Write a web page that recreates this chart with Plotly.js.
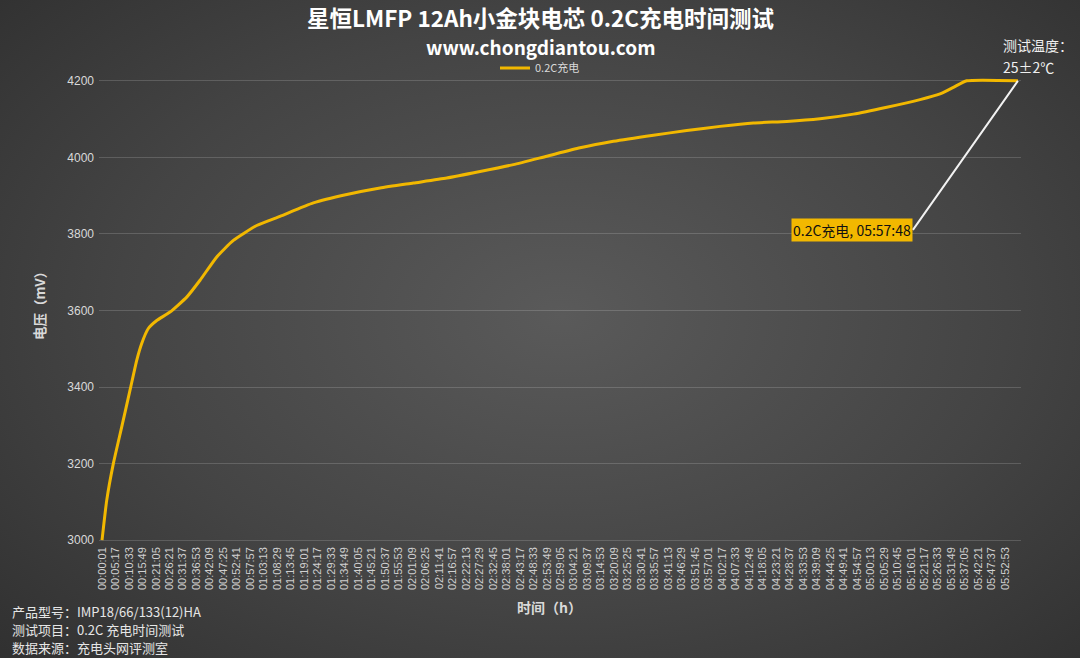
<!DOCTYPE html>
<html>
<head>
<meta charset="utf-8">
<script src="https://cdn.plot.ly/plotly-3.0.1.min.js"></script>
<style>
  html, body {
    margin: 0;
    padding: 0;
    width: 1080px;
    height: 658px;
    overflow: hidden;
    background: radial-gradient(ellipse 75% 80% at 52% 48%, #5a5a5a 0%, #444444 55%, #2e2e2e 100%);
  }
  #chart {
    width: 1080px;
    height: 658px;
  }
</style>
</head>
<body>
<div id="chart"></div>
<script>
// charge time (s) vs cell voltage (mV)
const chargeTimeSec = [1, 111, 266, 463, 657, 814, 931, 1086, 1283, 1595, 1986, 2298, 2690, 3079,
  3627, 4173, 4954, 5737, 6517, 7298, 8081, 8861, 9642, 10425, 11205, 11986, 12924, 13706,
  14487, 15268, 16050, 16831, 17612, 18394, 19174, 19643, 19955, 20269, 21468];
const voltageMV = [3000, 3104, 3200, 3296, 3392, 3470, 3514, 3553, 3574, 3596, 3635, 3679, 3740, 3783,
  3822, 3846, 3881, 3903, 3920, 3933, 3946, 3963, 3981, 4003, 4025, 4042, 4058, 4070,
  4081, 4090, 4094, 4101, 4113, 4131, 4151, 4166, 4183, 4200, 4200];

const xTickLabels = ['00:00:01', '00:05:17', '00:10:33', '00:15:49', '00:21:05', '00:26:21', '00:31:37',
  '00:36:53', '00:42:09', '00:47:25', '00:52:41', '00:57:57', '01:03:13', '01:08:29', '01:13:45',
  '01:19:01', '01:24:17', '01:29:33', '01:34:49', '01:40:05', '01:45:21', '01:50:37', '01:55:53',
  '02:01:09', '02:06:25', '02:11:41', '02:16:57', '02:22:13', '02:27:29', '02:32:45', '02:38:01',
  '02:43:17', '02:48:33', '02:53:49', '02:59:05', '03:04:21', '03:09:37', '03:14:53', '03:20:09',
  '03:25:25', '03:30:41', '03:35:57', '03:41:13', '03:46:29', '03:51:45', '03:57:01', '04:02:17',
  '04:07:33', '04:12:49', '04:18:05', '04:23:21', '04:28:37', '04:33:53', '04:39:09', '04:44:25',
  '04:49:41', '04:54:57', '05:00:13', '05:05:29', '05:10:45', '05:16:01', '05:21:17', '05:26:33',
  '05:31:49', '05:37:05', '05:42:21', '05:47:37', '05:52:53'];
const yTickVals = [3000, 3200, 3400, 3600, 3800, 4000, 4200];

const seriesName = '0.2C充电';
const endLabel = '05:57:48';
const infoLines = ['产品型号：IMP18/66/133(12)HA', '测试项目：0.2C 充电时间测试', '数据来源：充电头网评测室'];

function toSec(s) {
  const p = s.split(':').map(Number);
  return p[0] * 3600 + p[1] * 60 + p[2];
}

const CJK = '"Noto Sans CJK SC", "Microsoft YaHei", sans-serif';
const lineColor = '#f2b800';
const lastIdx = chargeTimeSec.length - 1;

// plot area: left 99, right 1021, top 77, bottom 544 (px)
const PL = 99, PW = 922, PB = 544, PH = 467;
const px = v => (v - PL) / PW;
const py = v => (PB - v) / PH;

const trace = {
  x: chargeTimeSec,
  y: voltageMV,
  type: 'scatter',
  mode: 'lines',
  name: seriesName,
  line: { color: lineColor, width: 3, shape: 'spline', smoothing: 0.5 },
  hoverinfo: 'skip'
};

function note(text, x, y, size, color, extra) {
  return Object.assign({
    text: text, xref: 'paper', yref: 'paper', x: x, y: y,
    xanchor: 'center', yanchor: 'middle', showarrow: false,
    font: { size: size, color: color, family: CJK }
  }, extra || {});
}

const layout = {
  width: 1080,
  height: 658,
  paper_bgcolor: 'rgba(0,0,0,0)',
  plot_bgcolor: 'rgba(0,0,0,0)',
  margin: { l: PL, r: 1080 - PL - PW, t: PB - PH, b: 658 - PB, pad: 0, autoexpand: false },
  font: { family: CJK, color: '#d9d9d9', size: 12 },
  showlegend: true,
  legend: {
    orientation: 'h',
    x: 0.5, xref: 'container', xanchor: 'center',
    y: 1 - 68 / 658, yref: 'container', yanchor: 'middle',
    font: { size: 11, color: '#d9d9d9', family: CJK },
    bgcolor: 'rgba(0,0,0,0)'
  },
  xaxis: {
    range: [-70, 21540],
    tickmode: 'array',
    tickvals: xTickLabels.map(toSec),
    ticktext: xTickLabels,
    tickangle: -90,
    tickfont: { size: 11, color: '#d0d0d0', family: 'Liberation Sans, Arial, sans-serif' },
    showgrid: false,
    zeroline: false,
    showline: false,
    ticks: '',
    automargin: false
  },
  yaxis: {
    range: [2990, 4210],
    tickmode: 'array',
    tickvals: yTickVals,
    tickfont: { size: 12, color: '#d9d9d9', family: 'Liberation Sans, Arial, sans-serif' },
    showgrid: true,
    gridcolor: 'rgba(255,255,255,0.16)',
    gridwidth: 1,
    zeroline: false,
    showline: false,
    ticks: '',
    ticklabelstandoff: 4,
    automargin: false
  },
  annotations: [
    note('<b>星恒LMFP 12Ah小金块电芯 0.2C充电时间测试</b>', px(540), py(17), 22.5, '#ffffff'),
    note('<b>www.chongdiantou.com</b>', px(540), py(46.5), 19, '#ffffff'),
    note('测试温度：', px(1001), py(45), 14, '#f0f0f0', { xanchor: 'left' }),
    note('25±2℃', px(1001), py(67), 14, '#f0f0f0', { xanchor: 'left' }),
    note('<b>时间（h）</b>', px(549), py(607), 14, '#d9d9d9'),
    note('<b>电压（mV）</b>', px(39), py(303), 13.5, '#d9d9d9', { textangle: -90 }),
    {
      text: seriesName + ', ' + endLabel,
      x: chargeTimeSec[lastIdx], y: voltageMV[lastIdx],
      xref: 'x', yref: 'y',
      showarrow: true, arrowhead: 0, arrowwidth: 2, arrowcolor: '#f2f2f2',
      ax: -105, ay: 149,
      xanchor: 'right', yanchor: 'middle',
      bgcolor: lineColor, borderpad: 1,
      font: { size: 14, color: '#111111', family: CJK }
    }
  ].concat(infoLines.map((t, i) =>
    note(t, px(10), py(611 + i * 18), 13, '#e6e6e6', { xanchor: 'left' })))
};

Plotly.newPlot('chart', [trace], layout, { displayModeBar: false, staticPlot: true });
</script>
</body>
</html>
